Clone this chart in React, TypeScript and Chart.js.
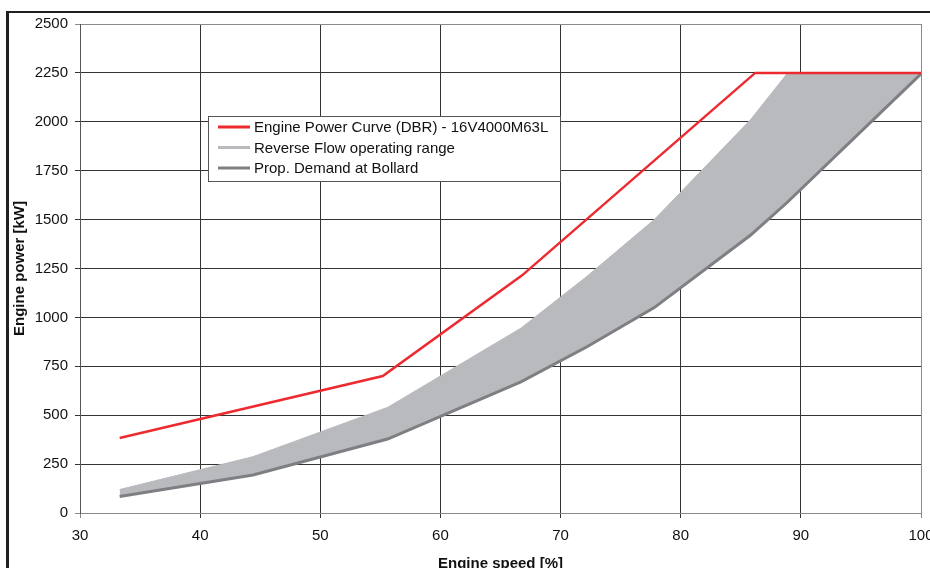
import React, { useEffect, useRef } from "react";
import { Chart, registerables } from "chart.js";

Chart.register(...registerables);

// ---- Data ----
const engineSpeed = [33.3, 55.2, 66.8, 86.2, 100];
const enginePower = [383, 700, 1215, 2250, 2250];

const bandSpeed = [33.3, 44.4, 55.6, 66.7, 72.2, 77.8, 85.8, 88.9, 100];
const reverseFlowUpper = [120, 288, 540, 945, 1210, 1500, 2010, 2250, 2250];
const propDemand = [84, 194, 378, 670, 850, 1050, 1420, 1590, 2245];

const seriesLabels = [
  "Engine Power Curve (DBR) - 16V4000M63L",
  "Reverse Flow operating range",
  "Prop. Demand at Bollard",
];
const seriesColors = ["#ec2a30", "#b9babd", "#7e7f83"];

const xTitle = "Engine speed [%]";
const yTitle = "Engine power [kW]";

const FONT = "'Liberation Sans', Arial, sans-serif";

const framePlugin = {
  id: "frame",
  beforeDraw(chart: any) {
    const ctx = chart.ctx;
    ctx.save();
    ctx.fillStyle = "#fff";
    ctx.fillRect(0, 0, chart.width, chart.height);
    ctx.fillStyle = "#231f20";
    ctx.fillRect(6, 11, 3, chart.height);
    ctx.fillRect(6, 11, chart.width, 2);
    ctx.restore();
  },
};

const legendBoxPlugin = {
  id: "legendBox",
  afterDraw(chart: any, _args: any, opts: any) {
    const ctx = chart.ctx;
    const { x, y, w, h, rowH, lineLen } = opts;
    ctx.save();
    ctx.fillStyle = "#fff";
    ctx.fillRect(x, y, w, h);
    ctx.strokeStyle = "#555";
    ctx.lineWidth = 1;
    ctx.strokeRect(x + 0.5, y + 0.5, w, h);
    ctx.font = `15px ${FONT}`;
    ctx.textBaseline = "middle";
    ctx.textAlign = "left";
    seriesLabels.forEach((lab, i) => {
      const cy = y + 11 + i * rowH;
      ctx.strokeStyle = seriesColors[i];
      ctx.lineWidth = 3;
      ctx.beginPath();
      ctx.moveTo(x + 10, cy);
      ctx.lineTo(x + 10 + lineLen, cy);
      ctx.stroke();
      ctx.fillStyle = "#111";
      ctx.fillText(lab, x + 14 + lineLen, cy + 1);
    });
    ctx.restore();
  },
};

export default function App() {
  const ref = useRef<HTMLCanvasElement>(null);

  useEffect(() => {
    if (!ref.current) return;
    const gridDark = "#333";
    const gridLight = "#8a8a8a";
    const chart = new Chart(ref.current, {
      type: "line",
      data: {
        datasets: [
          {
            label: seriesLabels[0],
            data: engineSpeed.map((s, i) => ({ x: s, y: enginePower[i] })),
            borderColor: seriesColors[0],
            borderWidth: 2.5,
            pointRadius: 0,
            fill: false,
            tension: 0,
          },
          {
            label: seriesLabels[1],
            data: bandSpeed.map((s, i) => ({ x: s, y: reverseFlowUpper[i] })),
            borderColor: seriesColors[1],
            backgroundColor: seriesColors[1],
            borderWidth: 1,
            pointRadius: 0,
            fill: 2,
            tension: 0,
          },
          {
            label: seriesLabels[2],
            data: bandSpeed.map((s, i) => ({ x: s, y: propDemand[i] })),
            borderColor: seriesColors[2],
            borderWidth: 3,
            pointRadius: 0,
            fill: false,
            tension: 0,
          },
        ],
      },
      options: {
        animation: false,
        responsive: false,
        devicePixelRatio: 1,
        layout: { padding: { left: 0, top: 24, right: 9, bottom: 0 } },
        plugins: {
          legend: { display: false },
          tooltip: { enabled: false },
          filler: { drawTime: "beforeDatasetsDraw" },
          legendBox: { x: 208, y: 116, w: 352, h: 65, rowH: 20.5, lineLen: 32 },
        } as any,
        scales: {
          x: {
            type: "linear",
            min: 30,
            max: 100,
            ticks: {
              stepSize: 10,
              color: "#111",
              font: { family: FONT, size: 15 },
              padding: 9,
              maxRotation: 0,
              callback: (v: any) => String(v),
            },
            grid: {
              color: (c: any) =>
                c.tick && (c.tick.value === 100 || c.tick.value === 30) ? gridLight : gridDark,
              lineWidth: 1,
              tickLength: 5,
            },
            border: { color: gridLight, width: 1 },
            title: {
              display: true,
              text: xTitle,
              color: "#111",
              font: { family: FONT, size: 15, weight: "bold" },
              padding: { top: 0, bottom: 7 },
            },
            afterFit(scale: any) {
              scale.height = 67;
              scale.paddingLeft = 0;
              scale.paddingRight = 0;
            },
          },
          y: {
            type: "linear",
            min: 0,
            max: 2500,
            ticks: {
              stepSize: 250,
              color: "#111",
              font: { family: FONT, size: 15 },
              padding: 7,
              callback: (v: any) => String(v),
            },
            grid: {
              color: (c: any) =>
                c.tick && (c.tick.value === 2500 || c.tick.value === 0) ? gridLight : gridDark,
              lineWidth: 1,
              tickLength: 5,
            },
            border: { color: "#555", width: 1 },
            title: {
              display: true,
              text: yTitle,
              color: "#111",
              font: { family: FONT, size: 15, weight: "bold" },
              padding: { top: 11, bottom: 0 },
            },
            afterFit(scale: any) {
              scale.width = 80;
              scale.paddingTop = 0;
              scale.paddingBottom = 0;
            },
          },
        },
      },
      plugins: [framePlugin, legendBoxPlugin],
    } as any);
    return () => chart.destroy();
  }, []);

  return (
    <div
      style={{
        position: "fixed",
        left: 0,
        top: 0,
        width: 930,
        height: 568,
        overflow: "hidden",
        background: "#fff",
      }}
    >
      <canvas ref={ref} width={930} height={580} style={{ display: "block", width: 930, height: 580 }} />
    </div>
  );
}
